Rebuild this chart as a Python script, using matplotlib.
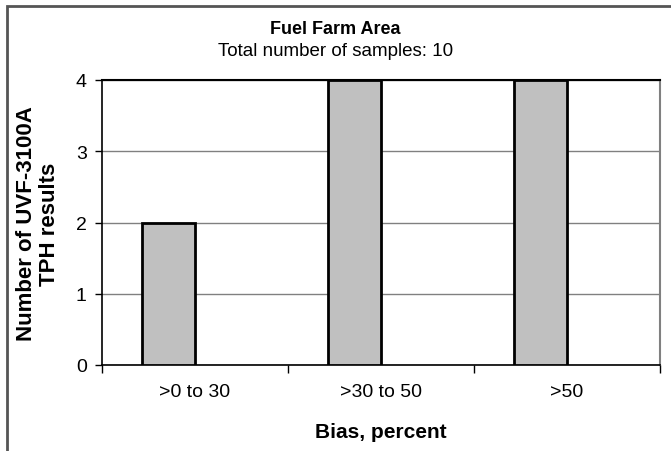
import numpy as np
import matplotlib.pyplot as plt
from matplotlib.patches import Rectangle

plt.rcParams['font.family'] = ['Liberation Sans', 'DejaVu Sans']

categories = ['>0 to 30', '>30 to 50', '>50']
counts = [2, 4, 4]
y_ticks = [0, 1, 2, 3, 4]

fig = plt.figure(figsize=(6.71, 4.52), dpi=100)
W, H = 671, 452
ax = fig.add_axes([102 / W, 1 - 366 / H, 558 / W, 285 / H])

x = np.arange(len(categories))
ax.bar(x - 0.1425, counts, width=0.29, color='#c0c0c0', edgecolor='black',
       linewidth=2, zorder=3)

ax.set_xlim(-0.5, len(categories) - 0.5)
ax.set_ylim(0, 4)
ax.set_yticks(y_ticks)
ax.set_yticklabels([str(v) for v in y_ticks], fontsize=14)
ax.set_xticks(x)
ax.set_xticklabels(categories, fontsize=14)
ax.tick_params(axis='x', length=0, pad=13)
ax.tick_params(axis='y', length=5, width=1, pad=6, direction='out')
# category boundary ticks
ax.set_xticks(np.arange(-0.5, len(categories)), minor=True)
ax.tick_params(axis='x', which='minor', length=6, width=1, direction='out')

ax.grid(axis='y', color='#808080', linewidth=1, zorder=0)
ax.spines['top'].set_color('black')
ax.spines['top'].set_linewidth(1.5)
ax.spines['right'].set_color('#808080')
ax.spines['right'].set_linewidth(1.5)
ax.spines['left'].set_linewidth(1.2)
ax.spines['bottom'].set_linewidth(1.2)

ax.set_xlabel('Bias, percent', fontsize=15, fontweight='bold', labelpad=16)
fig.text(0.5, 1 - 30 / H, 'Fuel Farm Area', ha='center', va='center',
         fontsize=13, fontweight='bold')
fig.text(0.5, 1 - 52 / H, 'Total number of samples: 10', ha='center',
         va='center', fontsize=13.5)
fig.text(38 / W, 1 - 224 / H, 'Number of UVF-3100A\nTPH results', ha='center',
         va='center', rotation=90, fontsize=16, fontweight='bold',
         linespacing=1.15)

fig.patches.append(Rectangle((7 / W, -0.1), 1.2, 1 - 7 / H + 0.1,
                             transform=fig.transFigure, fill=False,
                             edgecolor='#555555', linewidth=2))

fig.savefig('out.png', dpi=100)
